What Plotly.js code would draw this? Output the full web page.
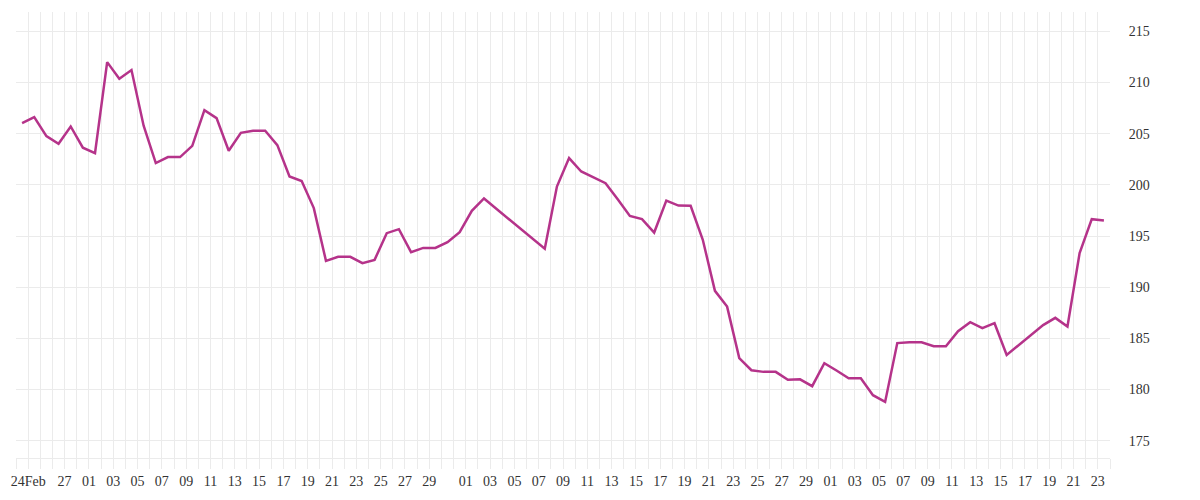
<!DOCTYPE html>
<html>
<head>
<meta charset="utf-8">
<script src="https://cdn.plot.ly/plotly-3.0.1.min.js"></script>
<style>html,body{margin:0;padding:0;background:#fff;}#chart{width:1200px;height:500px;}</style>
</head>
<body>
<div id="chart"></div>
<script>
const dates = [
  '2023-02-23','2023-02-24','2023-02-25','2023-02-26','2023-02-27','2023-02-28',
  '2023-03-01','2023-03-02','2023-03-03','2023-03-04','2023-03-05','2023-03-06','2023-03-07','2023-03-08','2023-03-09','2023-03-10',
  '2023-03-11','2023-03-12','2023-03-13','2023-03-14','2023-03-15','2023-03-16','2023-03-17','2023-03-18','2023-03-19','2023-03-20',
  '2023-03-21','2023-03-22','2023-03-23','2023-03-24','2023-03-25','2023-03-26','2023-03-27','2023-03-28','2023-03-29','2023-03-30','2023-03-31',
  '2023-04-01','2023-04-02',
  '2023-04-07','2023-04-08','2023-04-09','2023-04-10','2023-04-11','2023-04-12','2023-04-13','2023-04-14','2023-04-15','2023-04-16',
  '2023-04-17','2023-04-18','2023-04-19','2023-04-20','2023-04-21','2023-04-22','2023-04-23','2023-04-24','2023-04-25','2023-04-26',
  '2023-04-27','2023-04-28','2023-04-29','2023-04-30',
  '2023-05-01','2023-05-02','2023-05-03','2023-05-04','2023-05-05','2023-05-06','2023-05-07','2023-05-08','2023-05-09','2023-05-10',
  '2023-05-11','2023-05-12','2023-05-13','2023-05-14','2023-05-15',
  '2023-05-18','2023-05-19','2023-05-20','2023-05-21','2023-05-22','2023-05-23'
];
const values = [
  206.04,206.63,204.77,204.02,205.71,203.63,
  203.10,212.00,210.37,211.22,205.78,202.13,202.72,202.72,203.82,207.31,
  206.53,203.33,205.09,205.29,205.29,203.89,200.82,200.37,197.73,192.57,
  192.97,192.97,192.35,192.67,195.28,195.67,193.42,193.84,193.84,194.40,195.38,
  197.46,198.67,
  193.75,199.84,202.62,201.31,200.76,200.17,198.60,196.97,196.65,195.34,
  198.47,197.98,197.95,194.63,189.64,188.10,183.06,181.88,181.72,181.72,
  180.94,180.99,180.32,182.57,
  181.85,181.10,181.10,179.44,178.78,184.53,184.62,184.62,184.23,184.23,
  185.70,186.58,185.99,186.48,183.38,
  186.29,187.00,186.15,193.33,196.65,196.52
];
const tickDates = [
  '2023-02-24','2023-02-27',
  '2023-03-01','2023-03-03','2023-03-05','2023-03-07','2023-03-09','2023-03-11','2023-03-13','2023-03-15','2023-03-17',
  '2023-03-19','2023-03-21','2023-03-23','2023-03-25','2023-03-27','2023-03-29',
  '2023-04-01','2023-04-03','2023-04-05','2023-04-07','2023-04-09','2023-04-11','2023-04-13','2023-04-15','2023-04-17',
  '2023-04-19','2023-04-21','2023-04-23','2023-04-25','2023-04-27','2023-04-29',
  '2023-05-01','2023-05-03','2023-05-05','2023-05-07','2023-05-09','2023-05-11','2023-05-13','2023-05-15','2023-05-17',
  '2023-05-19','2023-05-21','2023-05-23'
];
const tickLabels = [
  '24Feb','27',
  '01','03','05','07','09','11','13','15','17',
  '19','21','23','25','27','29',
  '01','03','05','07','09','11','13','15','17',
  '19','21','23','25','27','29',
  '01','03','05','07','09','11','13','15','17',
  '19','21','23'
];
const yTicks = [175, 180, 185, 190, 195, 200, 205, 210, 215];

const gridColor = '#ebebeb';
const fontSpec = {family: 'Liberation Serif, DejaVu Serif, serif', size: 14, color: '#333333'};

const trace = {
  x: dates.map(d => d + ' 12:00'),
  y: values,
  type: 'scatter',
  mode: 'lines',
  line: {color: '#b5338a', width: 2.5},
  hoverinfo: 'x+y'
};

const layout = {
  width: 1200, height: 500,
  margin: {l: 16, r: 90, t: 12, b: 42},
  paper_bgcolor: '#ffffff',
  plot_bgcolor: '#ffffff',
  showlegend: false,
  font: fontSpec,
  xaxis: {
    type: 'date',
    range: ['2023-02-23', '2023-05-24'],
    tickmode: 'array',
    tickvals: tickDates,
    ticktext: tickLabels,
    ticks: 'outside',
    ticklen: 10,
    tickcolor: gridColor,
    tickwidth: 1,
    showgrid: true,
    gridcolor: gridColor,
    gridwidth: 1,
    showline: true,
    linecolor: gridColor,
    linewidth: 1,
    zeroline: false,
    tickfont: fontSpec,
    minor: {
      dtick: 86400000,
      tick0: '2023-02-23',
      ticks: 'outside',
      ticklen: 10,
      tickcolor: gridColor,
      showgrid: true,
      gridcolor: gridColor,
      gridwidth: 1
    }
  },
  yaxis: {
    side: 'right',
    range: [173.3, 216.9],
    tickmode: 'array',
    tickvals: yTicks,
    ticktext: yTicks.map(String),
    ticks: 'outside',
    ticklen: 15,
    tickcolor: 'rgba(0,0,0,0)',
    showgrid: true,
    gridcolor: gridColor,
    gridwidth: 1,
    zeroline: false,
    showline: false,
    tickfont: fontSpec
  }
};

Plotly.newPlot('chart', [trace], layout, {displayModeBar: false, staticPlot: true});
</script>
</body>
</html>
